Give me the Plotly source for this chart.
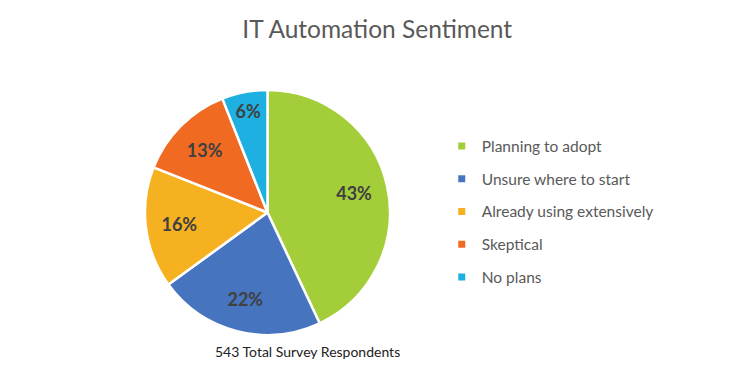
import plotly.graph_objects as go

categories = ["Planning to adopt", "Unsure where to start", "Already using extensively", "Skeptical", "No plans"]
values = [43, 22, 16, 13, 6]
colors = ["#A4CE39", "#4674BF", "#F5B120", "#F06A22", "#1DB0E0"]
title_text = "IT Automation Sentiment"
note_text = "543 Total Survey Respondents"

dom = dict(x=[0.1933, 0.52], y=[0.1067, 0.76])

fig = go.Figure()
# filled pie (no text)
fig.add_trace(go.Pie(
    labels=categories, values=values, sort=False, direction="clockwise", rotation=0,
    marker=dict(colors=colors, line=dict(color="white", width=2.5)),
    textinfo="none", showlegend=False, hoverinfo="label+percent",
    domain=dom,
))
# transparent ring carrying the percentage labels further out
fig.add_trace(go.Pie(
    labels=categories, values=values, sort=False, direction="clockwise", rotation=0,
    hole=0.45,
    marker=dict(colors=["rgba(0,0,0,0)"] * len(values), line=dict(width=0)),
    texttemplate="<b>%{value}%</b>", textposition="inside",
    insidetextorientation="horizontal",
    insidetextfont=dict(color="#404040", size=18, family="Lato"),
    showlegend=False, hoverinfo="skip",
    domain=dom,
))
for name, c in zip(categories, colors):
    fig.add_trace(go.Scatter(x=[None], y=[None], mode="markers", name=name,
                             legendgroup=name,
                             marker=dict(symbol="square", size=7, color=c)))

fig.update_layout(
    width=750, height=375,
    margin=dict(l=0, r=0, t=0, b=0),
    paper_bgcolor="white", plot_bgcolor="white",
    font=dict(family="Lato", color="#595959"),
    title=dict(text=title_text, x=0.503, xanchor="center", y=0.922, yanchor="middle",
               font=dict(size=24.5, color="#595959", family="Lato")),
    xaxis=dict(visible=False), yaxis=dict(visible=False),
    legend=dict(x=0.589, y=0.655, xanchor="left", yanchor="top",
                font=dict(size=15.5, color="#595959", family="Lato"),
                tracegroupgap=9.6, itemwidth=30, bgcolor="rgba(0,0,0,0)"),
    annotations=[dict(text=note_text, x=0.41, y=0.064, xref="paper", yref="paper",
                      showarrow=False, xanchor="center", yanchor="middle",
                      font=dict(size=14, color="#222222", family="Lato"))],
)
fig.write_html("out.html", config={"displayModeBar": False},
               post_script="document.body.style.margin='0';")
